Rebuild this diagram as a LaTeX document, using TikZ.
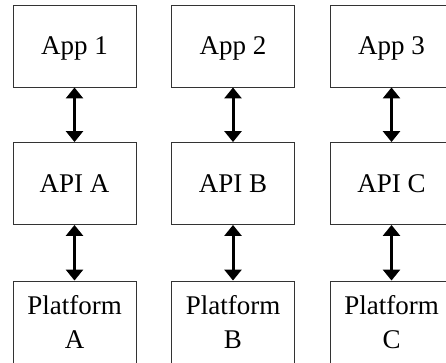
\documentclass[tikz,border=0pt]{standalone}
\usepackage{fontspec}
\usepackage{tikz}
\usetikzlibrary{arrows.meta}
\newfontfamily\boxfont{Liberation Serif}

\begin{document}
\begin{tikzpicture}[
    x=1pt, y=-1pt,
    layer/.style={draw=black!80, line width=0.9pt, minimum width=123pt, minimum height=82pt, inner sep=0pt, align=center, text depth=0pt, font=\boxfont\fontsize{27}{34}\selectfont},
    link/.style={{Triangle[width=17pt,length=11pt]}-{Triangle[width=17pt,length=11pt]}, line width=3pt, black}
  ]
  % canvas
  \useasboundingbox (0,0) rectangle (446,362);

  % one column per app: app on top, its api, then the platform
  \foreach \col/\x/\app/\api in {1/74.5/1/A, 2/233/2/B, 3/391.5/3/C} {
    \node[layer] (app\col) at (\x,46) {App \app};
    \node[layer] (api\col) at (\x,183.5) {API \api};
    \node[layer] (plat\col) at (\x,322) {Platform\\\api};
    % two-way calls between the layers
    \draw[link] (app\col) -- (api\col);
    \draw[link] (api\col) -- (plat\col);
  }
\end{tikzpicture}
\end{document}
